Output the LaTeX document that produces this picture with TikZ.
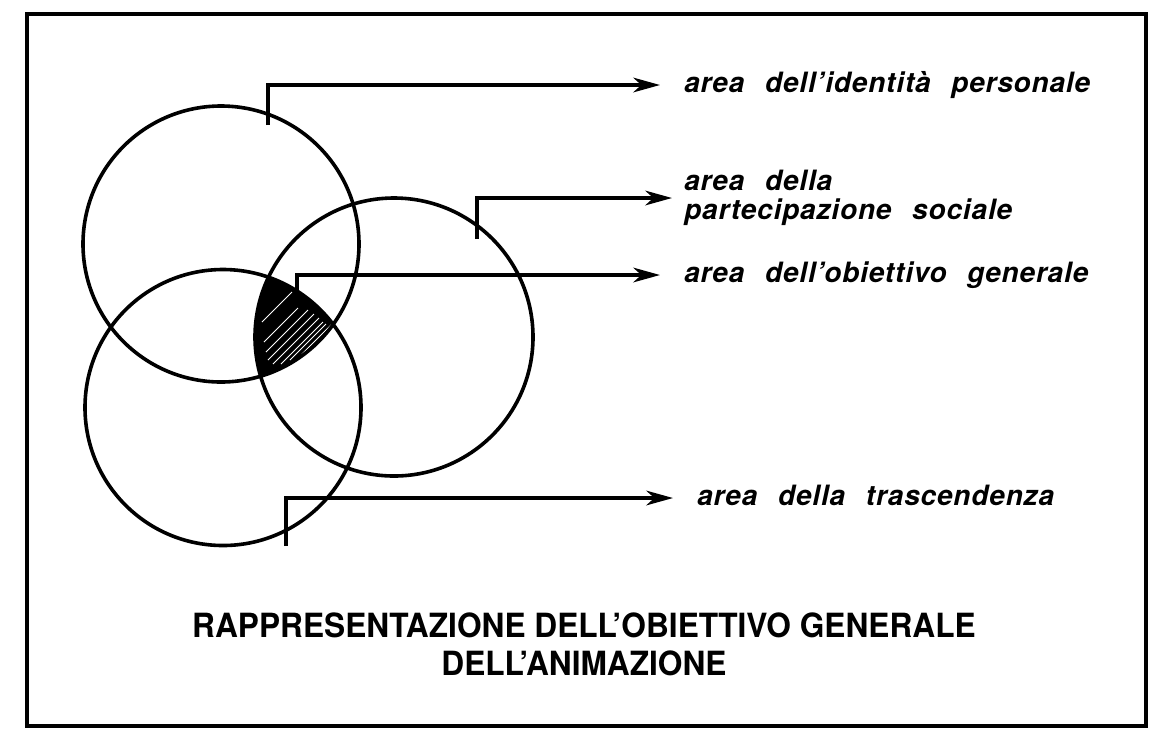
\documentclass[tikz,border=0pt]{standalone}
\usepackage{fontspec}
\usetikzlibrary{arrows.meta}
\newfontfamily\labelfont[LetterSpace=3,WordSpace=2.4]{TeX Gyre Heros}
\newfontfamily\titlefont[FakeStretch=0.95]{TeX Gyre Heros}

\begin{document}
\begin{tikzpicture}[x=0.75pt, y=-0.75pt,
	ring/.style={circle, draw, line width=2.7pt, inner sep=0pt},
	leader/.style={line width=2.6pt, -{Stealth[length=20pt, width=11pt, inset=6pt]}},
	lab/.style={anchor=west, inner xsep=18pt, inner ysep=0pt, font=\labelfont\bfseries\itshape\fontsize{21}{21.75}\selectfont, text height=11pt, text depth=0pt}]
	\useasboundingbox (0,0) rectangle (1176,744);
	\draw [line width=3pt] (27,14) rectangle (1146,726);

	\begin{scope}
		\clip (221,244) circle (138);
		\clip (394,337) circle (139);
		\fill (223,407.5) circle (138);
		\foreach \x/\y/\l in {262/322/30, 264/342/34, 266/352/42, 268/360/46, 273/364/46, 281/364/42, 290/360/36, 302/354/30, 314/346/22}
			\draw [white, line width=0.6pt] (\x,\y) -- ++(\l,-\l);
	\end{scope}

	\node at (221,244) [ring, minimum size=207pt] (ip) {};
	\node at (394,337) [ring, minimum size=208.5pt] (ps) {};
	\node at (223,407.5) [ring, minimum size=207pt] (tr) {};

	\coordinate (eip) at (268,125);
	\coordinate (eps) at (477,239);
	\coordinate (eog) at (297,290);
	\coordinate (etr) at (286,546);

	\node at (660,85) [lab] (lip) {area dell’identità personale};
	\node at (672,198) [lab, align=left, inner xsep=9pt, text height=, text depth=] (lps) {area della\\partecipazione sociale};
	\node at (660,275) [lab] (log) {area dell’obiettivo generale};
	\node at (673,498) [lab] (ltr) {area della trascendenza};

	\draw [leader] (eip) |- (lip.west);
	\draw [leader] (eps) |- (lps.west);
	\draw [leader] (eog) |- (log.west);
	\draw [leader] (etr) |- (ltr.west);

	\node at (584,644) [font=\titlefont\bfseries\fontsize{25}{28.5}\selectfont, align=center, inner sep=0pt] (title) {RAPPRESENTAZIONE DELL’OBIETTIVO GENERALE\\DELL’ANIMAZIONE};
\end{tikzpicture}
\end{document}
